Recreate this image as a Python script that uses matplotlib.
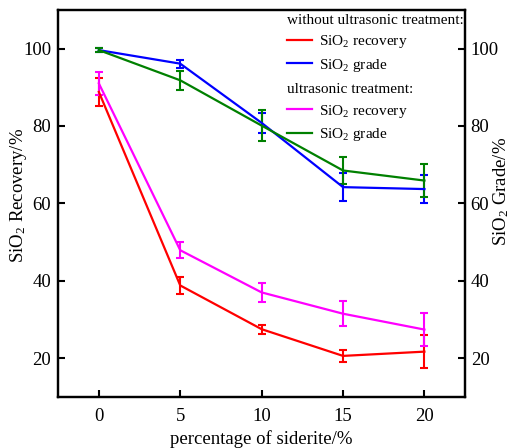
import matplotlib
matplotlib.use("Agg")
import matplotlib.pyplot as plt

# data
siderite = [0, 5, 10, 15, 20]

rec_plain = [88.8, 38.8, 27.5, 20.6, 21.7]
rec_plain_err = [3.6, 2.3, 1.2, 1.6, 4.3]
grade_plain = [99.6, 96.1, 80.8, 64.2, 63.7]
grade_plain_err = [0.5, 1.0, 2.6, 3.6, 3.7]

rec_us = [91.0, 47.9, 37.0, 31.5, 27.4]
rec_us_err = [3.0, 2.0, 2.5, 3.3, 4.3]
grade_us = [99.6, 91.8, 80.1, 68.5, 65.9]
grade_us_err = [0.5, 2.4, 4.1, 3.5, 4.2]

yticks = [20, 40, 60, 80, 100]

plt.rcParams['font.family'] = ['Liberation Serif', 'DejaVu Serif']
plt.rcParams['mathtext.fontset'] = 'custom'
plt.rcParams['mathtext.rm'] = 'Liberation Serif'
plt.rcParams['mathtext.it'] = 'Liberation Serif:italic'
plt.rcParams['font.size'] = 11

fig = plt.figure(figsize=(5.1, 4.48), dpi=100)
ax = fig.add_axes([0.114, 0.114, 0.798, 0.864])
ax2 = ax.twinx()

eb = dict(lw=1.6, capsize=3, capthick=1.5, elinewidth=1.5)
h1 = ax.errorbar(siderite, rec_plain, yerr=rec_plain_err, color='#ff0000', **eb)
h3 = ax.errorbar(siderite, rec_us, yerr=rec_us_err, color='#ff00ff', **eb)
h2 = ax2.errorbar(siderite, grade_plain, yerr=grade_plain_err, color='#0000ff', **eb)
h4 = ax2.errorbar(siderite, grade_us, yerr=grade_us_err, color='#008000', **eb)

for a in (ax, ax2):
    a.set_ylim(10, 110)
    a.set_yticks(yticks)
    a.tick_params(direction='in', length=5, width=1.5, labelsize=13.5)
    for s in a.spines.values():
        s.set_linewidth(1.6)
ax.set_xlim(-2.5, 22.5)
ax.set_xticks(siderite)
ax.tick_params(axis='x', pad=8)
ax.tick_params(axis='y', pad=5)
ax2.tick_params(axis='y', pad=4)

ax.set_xlabel('percentage of siderite/%', fontsize=13.5, labelpad=4)
ax.set_ylabel('SiO$_2$ Recovery/%', fontsize=13.5)
ax2.set_ylabel('SiO$_2$ Grade/%', fontsize=13.5)
ax.yaxis.set_label_coords(-0.072, 0.52)
ax2.yaxis.set_label_coords(1.064, 0.53)

lk = dict(frameon=False, loc='upper left', fontsize=11, title_fontsize=11,
          alignment='left', handlelength=1.6, handletextpad=0.5,
          labelspacing=0.42, borderpad=0, borderaxespad=0)
leg1 = ax2.legend([h1[0], h2[0]], ['SiO$_2$ recovery', 'SiO$_2$ grade'],
                  title='without ultrasonic treatment:',
                  bbox_to_anchor=(0.563, 0.99), **lk)
ax2.add_artist(leg1)
ax2.legend([h3[0], h4[0]], ['SiO$_2$ recovery', 'SiO$_2$ grade'],
           title='ultrasonic treatment:',
           bbox_to_anchor=(0.563, 0.81), **lk)

fig.savefig('out.png', dpi=100)
